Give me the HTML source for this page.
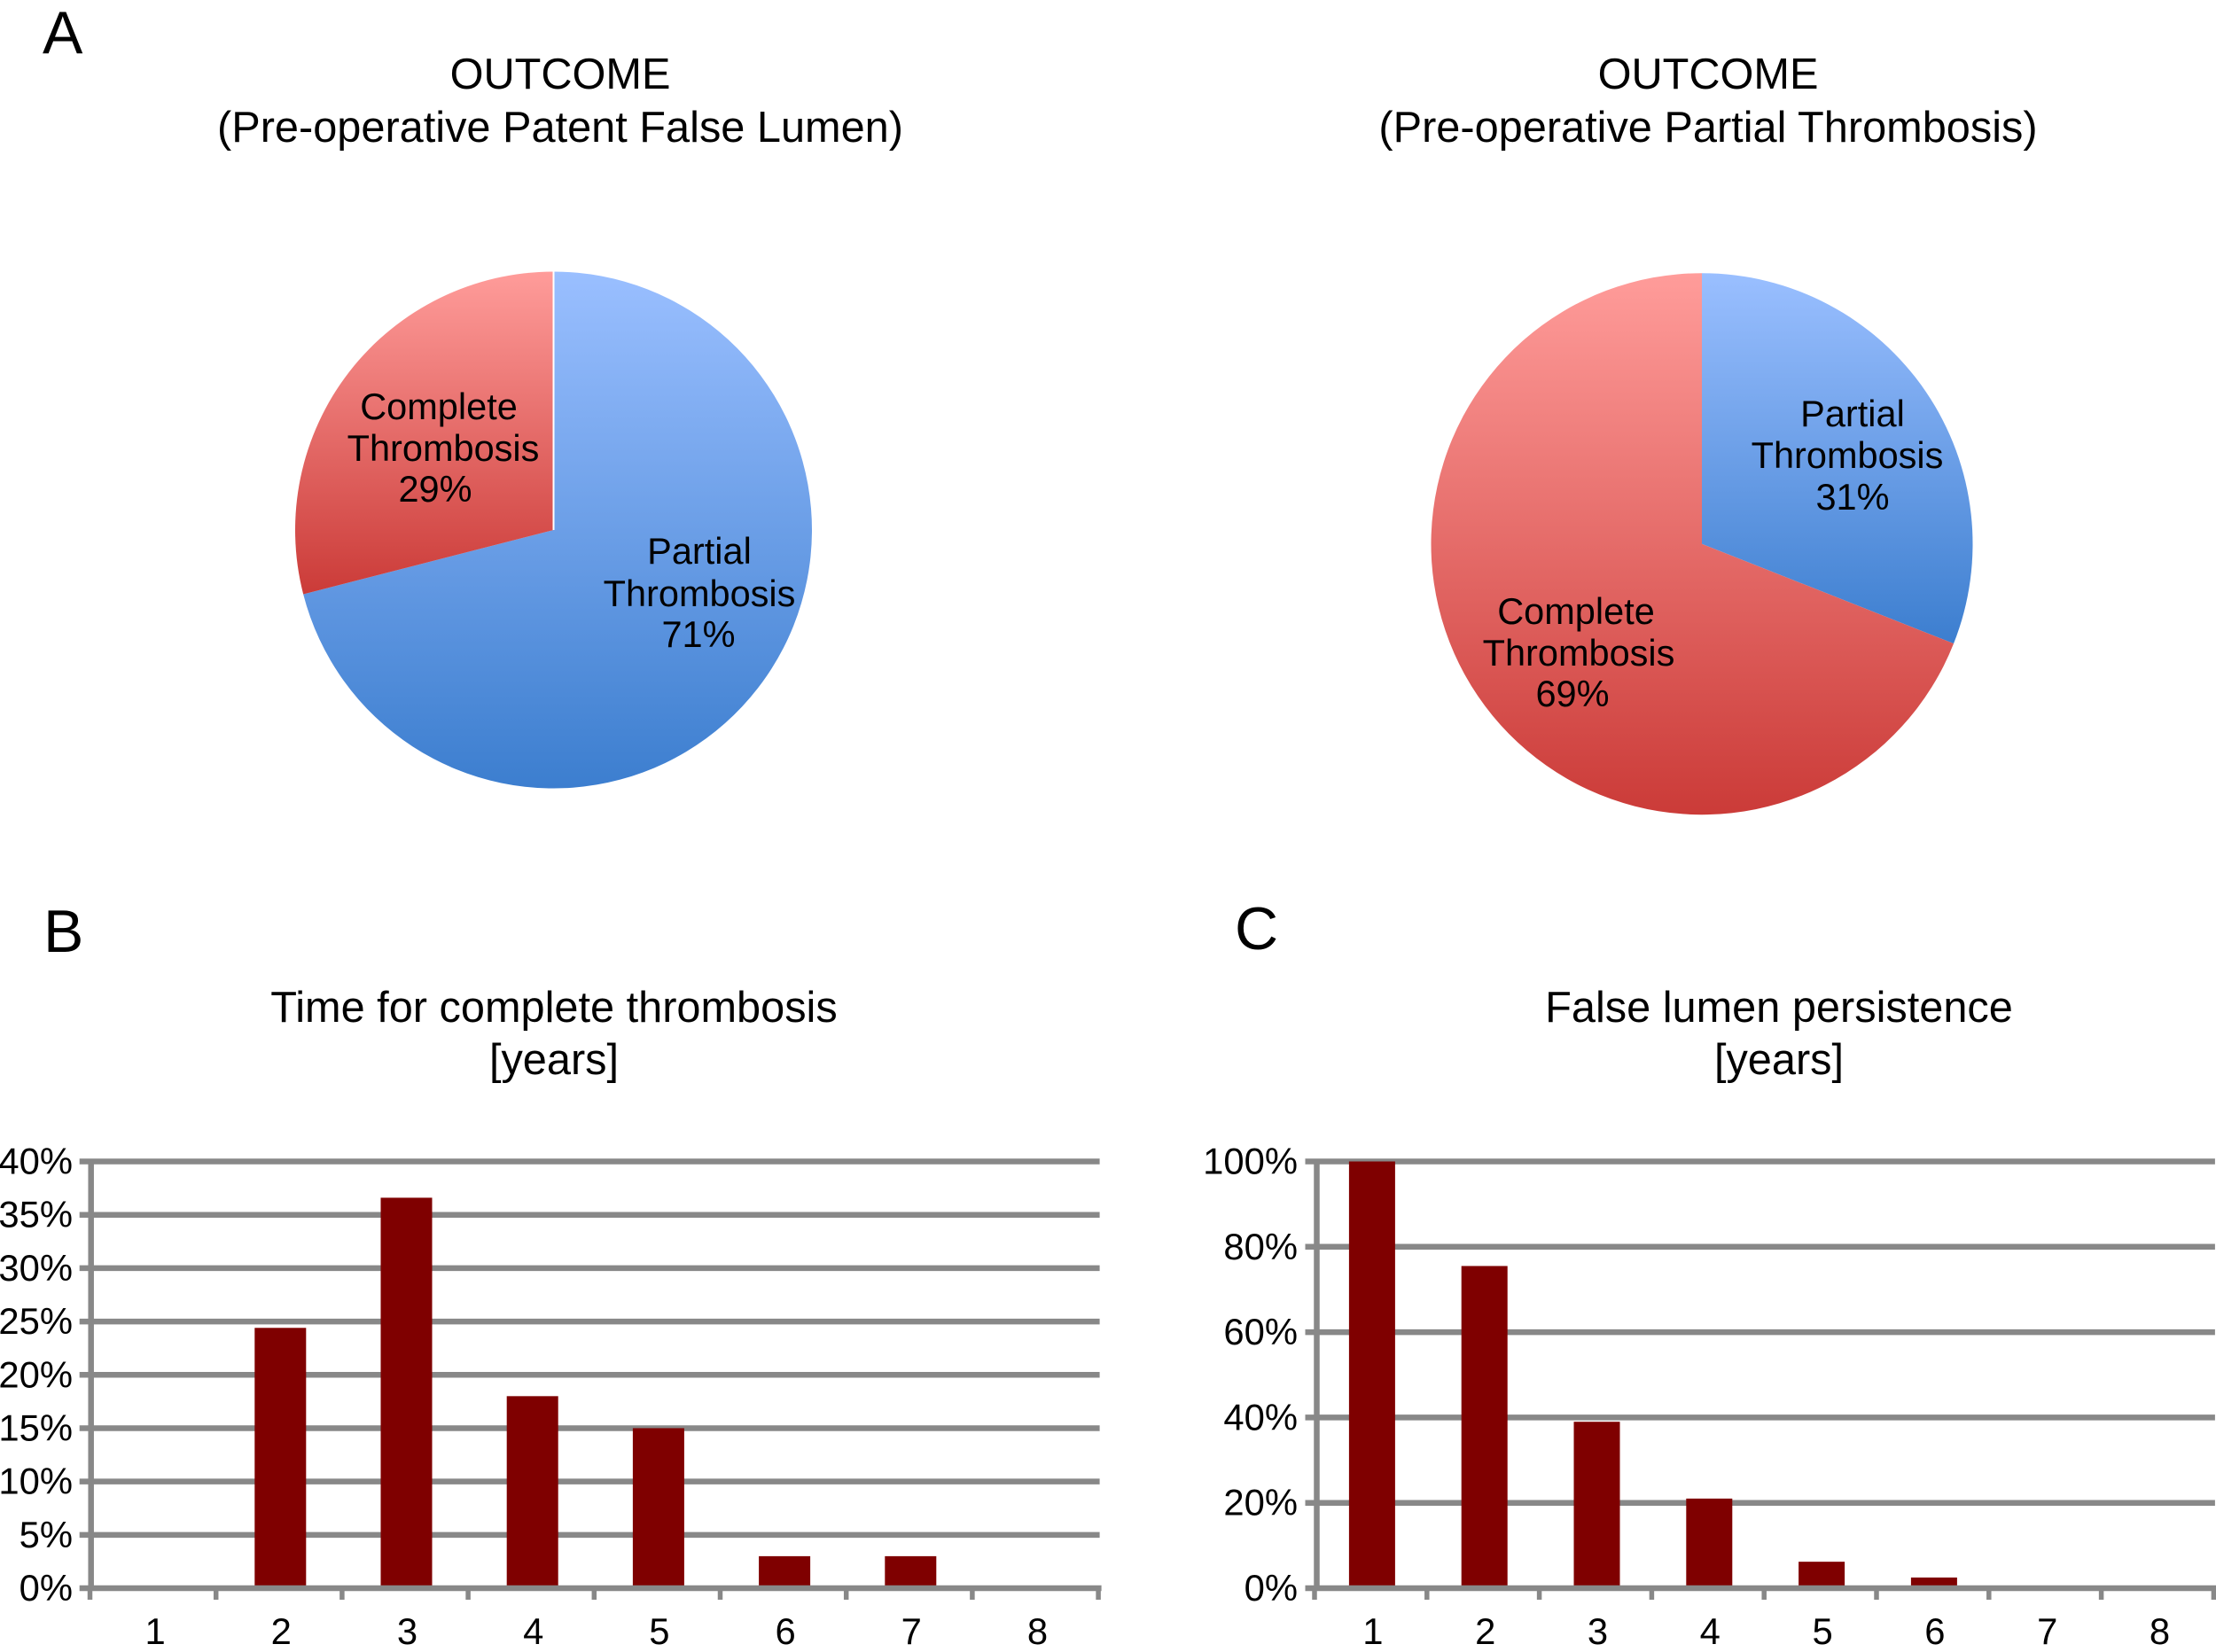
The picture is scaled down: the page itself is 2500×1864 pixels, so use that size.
<!DOCTYPE html>
<html lang="en">
<head>
<meta charset="utf-8">
<title>False lumen outcome charts</title>
<style>
html,body{margin:0;padding:0;background:#fff;width:2500px;height:1864px;overflow:hidden}
svg{display:block}
text{font-family:"Liberation Sans",sans-serif;fill:#000}
.panel{font-size:68px}
.title{font-size:48.7px;text-anchor:middle}
.slice-label{font-size:41.5px;text-anchor:middle}
.tick{font-size:41.8px}
</style>
</head>
<body>
<svg id="figure" xmlns="http://www.w3.org/2000/svg" width="2500" height="1864" viewBox="0 0 2500 1864">
  <defs>
    <linearGradient id="blue-fill" x1="0" y1="0" x2="0" y2="1">
      <stop offset="0" stop-color="#9abfff"/>
      <stop offset="1" stop-color="#3c7ecf"/>
    </linearGradient>
    <linearGradient id="red-fill" x1="0" y1="0" x2="0" y2="1">
      <stop offset="0" stop-color="#ff9c9a"/>
      <stop offset="1" stop-color="#cb3b38"/>
    </linearGradient>
  </defs>

  <text class="panel" x="48" y="60">A</text>
  <text class="panel" x="49" y="1074">B</text>
  <text class="panel" x="1393" y="1071">C</text>

  <g>
    <text class="title" x="632" y="100">OUTCOME</text>
    <text class="title" x="632" y="160">(Pre-operative Patent False Lumen)</text>
    <g id="pie-a-marks"></g>
    <text class="slice-label" x="495" y="473">Complete</text>
    <text class="slice-label" x="500" y="520">Thrombosis</text>
    <text class="slice-label" id="pie-a-pct-red" x="491" y="566"></text>
    <text class="slice-label" x="789" y="636">Partial</text>
    <text class="slice-label" x="789" y="684">Thrombosis</text>
    <text class="slice-label" id="pie-a-pct-blue" x="788" y="730"></text>
  </g>

  <g>
    <text class="title" x="1927" y="100">OUTCOME</text>
    <text class="title" x="1927" y="160">(Pre-operative Partial Thrombosis)</text>
    <g id="pie-b-marks"></g>
    <text class="slice-label" x="2090" y="481">Partial</text>
    <text class="slice-label" x="2084" y="528">Thrombosis</text>
    <text class="slice-label" id="pie-b-pct-blue" x="2090" y="575"></text>
    <text class="slice-label" x="1778" y="704">Complete</text>
    <text class="slice-label" x="1781" y="751">Thrombosis</text>
    <text class="slice-label" id="pie-b-pct-red" x="1774" y="797"></text>
  </g>

  <g>
    <text class="title" x="625" y="1153">Time for complete thrombosis</text>
    <text class="title" x="625" y="1212">[years]</text>
    <g id="bar-b-marks"></g>
  </g>

  <g>
    <text class="title" x="2007" y="1153">False lumen persistence</text>
    <text class="title" x="2007" y="1212">[years]</text>
    <g id="bar-c-marks"></g>
  </g>
</svg>

<script>
// Pie chart values (percent)
var pieAComplete = 29;
var pieAPartial = 71;
var pieBComplete = 69;
var pieBPartial = 31;

// Bar chart B
var barBCategories = ["1", "2", "3", "4", "5", "6", "7", "8"];
var barBValues = [0, 24.4, 36.6, 18, 15, 3, 3, 0];
var barBTicks = [0, 5, 10, 15, 20, 25, 30, 35, 40];

// Bar chart C
var barCCategories = ["1", "2", "3", "4", "5", "6", "7", "8"];
var barCValues = [100, 75.5, 39, 21, 6.2, 2.5, 0, 0];
var barCTicks = [0, 20, 40, 60, 80, 100];

var NS = "http://www.w3.org/2000/svg";
var GRID = "#888888";

function el(parent, tag, attrs) {
  var node = document.createElementNS(NS, tag);
  for (var k in attrs) node.setAttribute(k, attrs[k]);
  parent.appendChild(node);
  return node;
}

function slicePath(cx, cy, r, startPct, endPct) {
  var a0 = startPct / 100 * 2 * Math.PI;
  var a1 = endPct / 100 * 2 * Math.PI;
  var large = (endPct - startPct) > 50 ? 1 : 0;
  return "M" + cx + " " + cy +
    "L" + (cx + r * Math.sin(a0)) + " " + (cy - r * Math.cos(a0)) +
    "A" + r + " " + r + " 0 " + large + " 1 " +
    (cx + r * Math.sin(a1)) + " " + (cy - r * Math.cos(a1)) + "Z";
}

function drawPie(host, cx, cy, r, partial, complete, separator) {
  var total = partial + complete;
  var split = partial / total * 100;
  var blue = el(host, "path", {d: slicePath(cx, cy, r, 0, split), fill: "url(#blue-fill)"});
  
  
  var red = el(host, "path", {d: slicePath(cx, cy, r, split, 100), fill: "url(#red-fill)"});
  
  
  if (separator) {
    var line = el(host, "line", {x1: cx, y1: cy, x2: cx, y2: cy - r, stroke: "#ffffff", "stroke-width": 2});
    
    
  }
}

function drawBars(host, opt) {
  var y = function (v) { return opt.y0 - v / opt.max * (opt.y0 - opt.y1); };
  var x = function (i) { return opt.x0 + opt.step * i; };
  var n = opt.categories.length;
  var right = x(n);

  opt.ticks.forEach(function (t) {
    if (t === 0) return;
    var grid = el(host, "line", {x1: opt.axisX - 13, x2: right, y1: y(t), y2: y(t), stroke: GRID, "stroke-width": 6.5});
    
    
  });

  opt.values.forEach(function (v, i) {
    var cx = x(i + 0.5);
    var bar = el(host, "rect", {x: cx - opt.barWidth / 2, width: opt.barWidth, y: y(v), height: opt.y0 - y(v), fill: "#7f0000"});
    
    
  });

  var yAxis = el(host, "line", {x1: opt.axisX, x2: opt.axisX, y1: opt.y1 - 3, y2: opt.y0, stroke: GRID, "stroke-width": 6.5});
  
  

  var xAxis = el(host, "line", {x1: opt.axisX - 13, x2: right + 2, y1: opt.y0, y2: opt.y0, stroke: GRID, "stroke-width": 6.5});
  
  

  for (var i = 0; i <= n; i++) {
    var tick = el(host, "line", {x1: x(i) - 1.5, x2: x(i) - 1.5, y1: opt.y0, y2: opt.y0 + 13, stroke: GRID, "stroke-width": 5.5});
    
    
  }

  opt.ticks.forEach(function (t) {
    var label = el(host, "text", {"class": "tick", x: opt.labelRight, y: y(t) + 14, "text-anchor": "end"});
    label.textContent = t + "%";
    
    
  });

  opt.categories.forEach(function (c, i) {
    var label = el(host, "text", {"class": "tick", x: x(i + 0.5) + 1, y: 1855, "text-anchor": "middle"});
    label.textContent = c;
    
    
  });
}

drawPie(document.getElementById("pie-a-marks"), 624.5, 598, 291.5, pieAPartial, pieAComplete, true);
drawPie(document.getElementById("pie-b-marks"), 1920, 613.7, 305.5, pieBPartial, pieBComplete, false);

document.getElementById("pie-a-pct-red").textContent = pieAComplete + "%";
document.getElementById("pie-a-pct-blue").textContent = pieAPartial + "%";
document.getElementById("pie-b-pct-red").textContent = pieBComplete + "%";
document.getElementById("pie-b-pct-blue").textContent = pieBPartial + "%";

drawBars(document.getElementById("bar-b-marks"), {
  categories: barBCategories, values: barBValues, ticks: barBTicks,
  max: 40, y0: 1792, y1: 1310.5, x0: 103, step: 142.2, axisX: 102.7,
  barWidth: 58, labelRight: 82
});
drawBars(document.getElementById("bar-c-marks"), {
  categories: barCCategories, values: barCValues, ticks: barCTicks,
  max: 100, y0: 1792, y1: 1310.5, x0: 1484.5, step: 126.8, axisX: 1485.5,
  barWidth: 52, labelRight: 1464
});
</script>
</body>
</html>
